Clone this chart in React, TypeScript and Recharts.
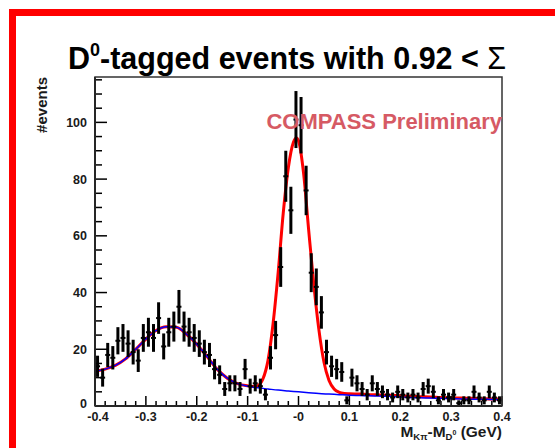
import { ComposedChart, Line, Scatter, ErrorBar, XAxis, YAxis } from "recharts";

const W = 555;
const H = 448;
const PLOT = { left: 95, top: 77, right: 502, bottom: 406 };
const FONT = "'Liberation Sans', Arial, Helvetica, sans-serif";

// histogram: 80 bins of 10 MeV from -0.4 to 0.4
const BIN_LOW = -0.4;
const BIN_WIDTH = 0.01;
const COUNTS = [
  14, 10, 18, 17, 23, 24, 22, 19, 16, 24,
  26, 24, 31, 21, 26, 28, 35, 28, 26, 24,
  22, 19, 18, 13, 11, 6, 8, 8, 6, 13,
  7, 8, 7, 4, 17, 25, 49, 81, 69, 101,
  99, 76, 47, 42, 33, 19, 14, 13, 12, 2,
  10, 8, 6, 4, 8, 6, 5, 4, 3, 5,
  4, 3, 4, 3, 6, 7, 5, 2, 4, 3,
  4, 1, 2, 2, 5, 3, 2, 5, 3, 2,
];

// total fit (signal + background)
const TOTAL_X = [
  -0.4, -0.38, -0.36, -0.34, -0.32, -0.3, -0.28, -0.26, -0.24, -0.22, -0.2, -0.18, -0.16, -0.14, -0.12, -0.1,
  -0.09, -0.08, -0.07, -0.06, -0.05, -0.04, -0.03, -0.02, -0.01, -0.004, 0,
  0.01, 0.02, 0.03, 0.04, 0.05, 0.06, 0.07, 0.08, 0.09, 0.1,
  0.12, 0.14, 0.16, 0.18, 0.2, 0.22, 0.24, 0.26, 0.28, 0.3, 0.32, 0.34, 0.36, 0.38, 0.4,
];
const TOTAL_Y = [
  12.2, 13.0, 14.3, 16.6, 20.0, 23.6, 26.6, 27.9, 27.8, 25.3, 21.8, 17.5, 13.0, 9.8, 7.9, 7.1,
  6.9, 7.2, 9.5, 16, 29, 47, 68, 84, 93, 94.5, 93.5,
  82, 62, 43, 27, 15.5, 9, 6, 4.8, 4.4, 4.3,
  4.2, 4.0, 3.9, 3.8, 3.6, 3.4, 3.3, 3.2, 3.0, 2.9, 2.8, 2.7, 2.6, 2.5, 2.5,
];

// background component
const BKG_X = [
  -0.4, -0.38, -0.36, -0.34, -0.32, -0.3, -0.28, -0.26, -0.24, -0.22, -0.2, -0.18, -0.16, -0.14, -0.12, -0.1,
  -0.08, -0.06, -0.04, -0.02, 0, 0.02, 0.04, 0.06, 0.08, 0.1, 0.12, 0.14, 0.16, 0.18, 0.2,
  0.22, 0.24, 0.26, 0.28, 0.3, 0.32, 0.34, 0.36, 0.38, 0.4,
];
const BKG_Y = [
  12.2, 13.0, 14.3, 16.6, 20.0, 23.6, 26.6, 27.9, 27.8, 25.3, 21.8, 17.5, 13.0, 9.8, 7.9, 7.0,
  6.4, 6.0, 5.6, 5.3, 5.0, 4.7, 4.4, 4.2, 4.0, 3.8, 3.7, 3.6, 3.5, 3.4, 3.2,
  3.0, 2.9, 2.8, 2.7, 2.6, 2.5, 2.4, 2.4, 2.3, 2.3,
];

const X_MAJOR = [-0.4, -0.3, -0.2, -0.1, 0, 0.1, 0.2, 0.3, 0.4];
const X_LABELS = ["-0.4", "-0.3", "-0.2", "-0.1", "-0", "0.1", "0.2", "0.3", "0.4"];
const Y_MAJOR = [0, 20, 40, 60, 80, 100];
const Y_MAX = 116;

const hist = COUNTS.map((n, i) => ({
  x: BIN_LOW + (i + 0.5) * BIN_WIDTH,
  y: n,
  err: Math.sqrt(n),
}));
const totalFit = TOTAL_X.map((x, i) => ({ x, y: TOTAL_Y[i] }));
const bkgFit = BKG_X.map((x, i) => ({ x, y: BKG_Y[i] }));

// minor ticks: 5 per major on x, 4 per major on y
const xTicks: number[] = [];
for (let k = -20; k <= 20; k++) xTicks.push(k / 50);
const yTicks: number[] = [];
for (let v = 0; v <= 115; v += 5) yTicks.push(v);

function XTick(props: any) {
  const { x, payload } = props;
  const idx = X_MAJOR.findIndex((m) => Math.abs(m - payload.value) < 1e-6);
  const major = idx >= 0;
  // first label nudged right so it clears the "0" of the y axis
  const lx = idx === 0 ? x + 3 : x;
  return (
    <g>
      <line x1={x} x2={x} y1={PLOT.bottom} y2={PLOT.bottom - (major ? 10 : 5)} stroke="#000" strokeWidth={1.5} />
      {major && (
        <text x={lx} y={PLOT.bottom + 15} textAnchor="middle" fontFamily={FONT} fontWeight="bold" fontSize={12.5} fill="#1a1a1a">
          {X_LABELS[idx]}
        </text>
      )}
    </g>
  );
}

function YTick(props: any) {
  const { y, payload } = props;
  const major = Y_MAJOR.includes(payload.value);
  const ly = payload.value === 0 ? y + 2 : y + 4.5;
  return (
    <g>
      <line x1={PLOT.left} x2={PLOT.left + (major ? 12 : 7)} y1={y} y2={y} stroke="#000" strokeWidth={1.5} />
      {major && (
        <text x={PLOT.left - 8} y={ly} textAnchor="end" fontFamily={FONT} fontWeight="bold" fontSize={12.5} fill="#1a1a1a">
          {payload.value}
        </text>
      )}
    </g>
  );
}

// bin-width marker at each histogram point
function BinMark(props: any) {
  const { cx, cy } = props;
  return <line x1={cx - 2.5} x2={cx + 2.5} y1={cy} y2={cy} stroke="#000" strokeWidth={2} />;
}

export default function App() {
  return (
    <div style={{ position: "absolute", left: 0, top: 0, width: W, height: H, background: "#fff" }}>
      <ComposedChart
        width={W}
        height={H}
        margin={{ top: PLOT.top, right: W - PLOT.right, bottom: H - PLOT.bottom - 1, left: PLOT.left - 1 }}
      >
        <XAxis
          dataKey="x"
          type="number"
          domain={[-0.4, 0.4]}
          ticks={xTicks}
          interval={0}
          allowDataOverflow
          height={1}
          tickLine={false}
          tick={<XTick />}
          axisLine={{ stroke: "#000", strokeWidth: 2 }}
        />
        <YAxis
          type="number"
          domain={[0, Y_MAX]}
          ticks={yTicks}
          interval={0}
          allowDataOverflow
          width={1}
          tickLine={false}
          tick={<YTick />}
          axisLine={{ stroke: "#000", strokeWidth: 2 }}
        />
        <Line data={totalFit} dataKey="y" type="monotone" stroke="#ff0000" strokeWidth={3} dot={false} isAnimationActive={false} />
        <Line data={bkgFit} dataKey="y" type="monotone" stroke="#0000ff" strokeWidth={1.5} dot={false} isAnimationActive={false} />
        <Scatter data={hist} dataKey="y" shape={<BinMark />} isAnimationActive={false}>
          <ErrorBar dataKey="err" direction="y" width={0} stroke="#000" strokeWidth={3} isAnimationActive={false} />
        </Scatter>
      </ComposedChart>
      <svg width={W} height={H} style={{ position: "absolute", left: 0, top: 0, pointerEvents: "none" }}>
        <rect x={12.5} y={12.5} width={620} height={520} fill="none" stroke="#ff0000" strokeWidth={7} />
        <rect
          x={PLOT.left}
          y={PLOT.top}
          width={PLOT.right - PLOT.left}
          height={PLOT.bottom - PLOT.top}
          fill="none"
          stroke="#333"
          strokeWidth={1.5}
        />
        <text x={68} y={69} fontFamily={FONT} fontWeight="bold" fontSize={30.5} fill="#000">
          D<tspan fontSize={18} dy={-13}>0</tspan>
          <tspan dy={13}>-tagged events with 0.92 &lt; </tspan>
          <tspan fontWeight="normal">Σ</tspan>
        </text>
        <text x={502} y={129} textAnchor="end" fontFamily={FONT} fontWeight="bold" fontSize={22} fill="#d65a64">
          COMPASS Preliminary
        </text>
        <text
          transform={`translate(47, ${PLOT.top}) rotate(-90)`}
          textAnchor="end"
          fontFamily={FONT}
          fontWeight="bold"
          fontSize={15}
          fill="#1a1a1a"
        >
          #events
        </text>
        <text x={502} y={437} textAnchor="end" fontFamily={FONT} fontWeight="bold" fontSize={15.5} fill="#1a1a1a">
          M<tspan fontSize={9.5} dy={3}>Kπ</tspan>
          <tspan dy={-3}>-M</tspan>
          <tspan fontSize={9.5} dy={3}>D</tspan>
          <tspan fontSize={7} dy={-5}>0</tspan>
          <tspan dy={2}> (GeV)</tspan>
        </text>
      </svg>
    </div>
  );
}
